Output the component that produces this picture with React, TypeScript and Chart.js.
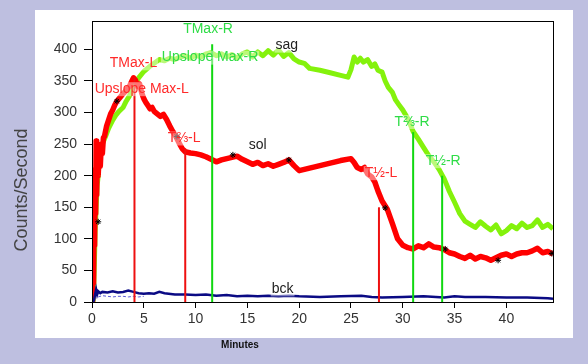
import React, { useEffect, useRef } from "react";
import { Chart, registerables } from "chart.js";

Chart.register(...registerables);

// ---- data ----
const solMinutes = [0.05,0.1,0.15,0.2,0.25,0.3,0.35,0.4,0.45,0.5,0.6,0.7,0.8,0.9,1.0,1.1,1.2,1.4,1.6,1.8,2.0,2.2,2.4,2.6,2.8,3.0,3.2,3.4,3.6,3.8,4.0,4.2,4.4,4.6,4.8,5.0,5.2,5.4,5.6,5.8,6.0,6.3,6.6,6.9,7.2,7.5,7.8,8.1,8.4,8.7,9.0,9.5,10,10.5,11,11.5,12,12.5,13,13.5,14,14.5,15,15.5,16,16.5,17,17.5,18,18.5,19,19.5,20,21,22,23,24,25,25.3,25.6,26,26.3,26.6,27,27.3,27.6,28,28.5,29,29.5,30,30.5,31,31.5,32,32.5,33,33.5,34,34.5,35,35.5,36,36.5,37,37.5,38,38.5,39,39.5,40,40.5,41,41.5,42,42.5,43,43.5,44,44.5];
const solCounts = [0,110,30,170,90,210,140,255,170,235,200,245,215,250,235,260,262,278,288,298,304,312,318,322,326,330,333,338,341,348,355,351,342,345,331,322,316,311,306,308,302,298,294,297,289,279,270,262,252,243,238,236,235,233,230,226,222,225,227,229,231,226,222,218,221,216,219,215,218,221,225,216,208,212,216,220,224,227,221,213,210,213,203,198,190,176,160,147,124,100,90,86,84,89,86,92,87,86,83,78,76,72,69,74,68,72,70,66,70,74,76,72,76,78,78,81,85,78,80,76];

const sagMinutes = [0.1,0.2,0.3,0.4,0.5,0.6,0.7,0.8,1.0,1.3,1.6,2.0,2.3,2.6,3.0,3.3,3.6,4.0,4.5,5.0,5.5,6.0,6.5,7.0,7.5,8.0,8.5,9.0,9.5,10,10.5,11,11.5,12,12.5,13,13.5,14,14.5,15,15.5,16,16.5,17,17.5,18,18.5,19,19.5,20,20.5,21,22,23,24,24.7,25,25.3,25.6,25.9,26.2,26.6,27,27.3,27.6,28,28.3,28.6,29,29.3,29.6,30,30.5,31,31.5,32,32.5,33,33.5,34,34.5,35,35.5,36,36.5,37,37.5,38,38.5,39,39.5,40,40.5,41,41.5,42,42.5,43,43.5,44,44.5];
const sagCounts = [0,40,110,150,185,200,225,240,250,262,275,288,296,302,308,318,326,340,355,365,372,378,384,382,386,384,388,390,386,391,388,393,395,390,393,388,392,386,393,396,388,396,390,398,391,399,389,395,385,380,378,370,367,363,359,356,368,388,380,386,380,384,373,377,367,364,350,340,332,320,313,304,290,270,258,245,232,222,210,195,175,158,140,128,123,118,127,120,114,122,108,113,121,116,125,118,121,130,118,123,116];

const bckMinutes = [0.1,0.2,0.3,0.4,0.5,0.6,0.8,1,1.5,2,2.5,3,3.5,4,4.5,5,5.5,6,6.5,7,8,9,10,11,12,13,14,15,16,17,18,19,20,22,24,26,27,28,30,32,34,35,36,38,40,42,44,44.5];
const bckCounts = [0,3,12,20,12,17,14,16,15,17,15,16,18,16,14,13,14,13,16,14,12,12,11,12,10,11,9,10,9,10,9,10,9,8,9,10,8,7,8,9,7,9,8,8,7,7,6,5];

const bck2Minutes = [0.6,1,1.5,2,2.5,3,3.5,4,4.5,5];
const bck2Counts = [8,10,9,8,9,9,8,9,8,9];

const starMinutes = [0.6,2.4,8.2,13.6,19,28.3,34.1,39.2,44.4];
const starCounts = [127,318,262,233,225,149,84,66,77];

const markerMinutes = [4.1, 9.0, 11.6, 27.7, 31.0, 33.8];
const markerTops = [356, 243, 408, 150, 269, 200];
const markerSide = ["L", "L", "R", "L", "R", "R"];

const labelTexts = ["TMax-L","Upslope Max-L","TMax-R","Upslope Max-R","sag","T⅔-L","sol","T½-L","T⅔-R","T½-R","bck"];
const labelMinutes = [4.0, 4.8, 11.2, 11.4, 18.8, 8.9, 16.0, 27.9, 30.9, 33.9, 18.4];
const labelCounts = [378, 337, 432, 387, 406, 259, 248, 204, 285, 223, 20];
const labelKinds = ["L","L","R","R","N","L","N","L","R","R","N"];

const yTicksStep = 50;
const xTicksStep = 5;

// ---- styles ----
const FONT = "'Liberation Sans', Arial, sans-serif";
const LAVENDER = "#bebfe0";
const RED = "#ff0000";
const SAG_GREEN = "#84f20c";
const MARK_GREEN = "#10d810";
const textColor: Record<string, string> = { L: "#ff2a2a", R: "#2edc46", N: "#222222" };
const markColor: Record<string, string> = { L: "#ee1010", R: MARK_GREEN };

const pts = (xs: number[], ys: number[]) => xs.map((x, i) => ({ x, y: ys[i] }));

const framePlugin = {
  id: "frame",
  beforeDraw(chart: any) {
    const ctx = chart.ctx;
    ctx.save();
    ctx.fillStyle = LAVENDER;
    ctx.fillRect(0, 0, chart.width, chart.height);
    ctx.fillStyle = "#ffffff";
    ctx.fillRect(35, 10, 538, 328);
    ctx.restore();
  },
  afterDatasetsDraw(chart: any) {
    const ctx = chart.ctx;
    const xs = chart.scales.x;
    const ys = chart.scales.y;
    ctx.save();
    ctx.font = `14px ${FONT}`;
    ctx.textAlign = "center";
    ctx.textBaseline = "middle";
    labelTexts.forEach((t, i) => {
      const px = xs.getPixelForValue(labelMinutes[i]);
      const py = ys.getPixelForValue(labelCounts[i]);
      const w = ctx.measureText(t).width;
      ctx.fillStyle = "rgba(255,255,255,0.45)";
      ctx.fillRect(px - w / 2 - 1, py - 7, w + 2, 14);
      ctx.fillStyle = textColor[labelKinds[i]];
      ctx.fillText(t, px, py);
    });
    const a = chart.chartArea;
    ctx.strokeStyle = "#000";
    ctx.lineWidth = 1;
    ctx.strokeRect(Math.round(a.left) + 0.5, Math.round(a.top) + 0.5, Math.round(a.right - a.left), Math.round(a.bottom - a.top));
    ctx.restore();
  },
  afterDraw(chart: any) {
    const ctx = chart.ctx;
    ctx.save();
    ctx.fillStyle = "#444";
    ctx.font = `18px ${FONT}`;
    ctx.textAlign = "center";
    ctx.textBaseline = "middle";
    ctx.translate(22, 190);
    ctx.rotate(-Math.PI / 2);
    ctx.fillText("Counts/Second", 0, 0);
    ctx.restore();
    ctx.save();
    ctx.fillStyle = "#111";
    ctx.font = `bold 10px ${FONT}`;
    ctx.textAlign = "center";
    ctx.textBaseline = "middle";
    ctx.fillText("Minutes", 240, 345);
    ctx.restore();
  },
};

export default function App() {
  const ref = useRef<HTMLCanvasElement | null>(null);
  useEffect(() => {
    document.body.style.margin = "0";
    if (!ref.current) return;
    const markerSets = markerMinutes.map((m, i) => ({
      type: "line" as const,
      data: [{ x: m, y: 0 }, { x: m, y: markerTops[i] }],
      borderColor: markColor[markerSide[i]],
      borderWidth: 2,
      pointRadius: 0,
      fill: false,
    }));
    const chart = new Chart(ref.current, {
      type: "line",
      data: {
        datasets: [
          ...markerSets,
          {
            type: "scatter" as any,
            data: pts(starMinutes, starCounts),
            pointStyle: "star",
            pointRadius: 3,
            borderColor: "#000",
            backgroundColor: "#000",
            borderWidth: 1,
            showLine: false,
          },
          { data: pts(bck2Minutes, bck2Counts), borderColor: "#5a5ad8", borderWidth: 1, borderDash: [3, 2], pointRadius: 0 },
          { data: pts(bckMinutes, bckCounts), borderColor: "#0a0a84", borderWidth: 2.5, pointRadius: 0 },
          { data: pts(solMinutes, solCounts), borderColor: RED, borderWidth: 5.5, pointRadius: 0, borderJoinStyle: "round" as any },
          { data: pts(sagMinutes, sagCounts), borderColor: SAG_GREEN, borderWidth: 5, pointRadius: 0, borderJoinStyle: "round" as any },
        ] as any,
      },
      options: {
        animation: false,
        responsive: false,
        devicePixelRatio: 1,
        layout: { padding: { left: 0, top: 21, right: 35, bottom: 0 } },
        plugins: { legend: { display: false }, tooltip: { enabled: false } },
        scales: {
          x: {
            type: "linear",
            min: 0,
            max: 44.5,
            afterFit: (s: any) => { s.height = 62; },
            afterBuildTicks: (s: any) => { s.ticks = s.ticks.filter((t: any) => Math.abs(t.value % xTicksStep) < 1e-6); },
            ticks: { stepSize: xTicksStep, includeBounds: false, color: "#333", font: { family: FONT, size: 14 }, padding: 3, maxRotation: 0, autoSkip: false },
            grid: { drawOnChartArea: false, drawTicks: true, tickLength: 6, color: "#000" },
            border: { display: false },
          },
          y: {
            type: "linear",
            min: 0,
            max: 445,
            afterFit: (s: any) => { s.width = 92; },
            afterBuildTicks: (s: any) => { s.ticks = s.ticks.filter((t: any) => Math.abs(t.value % yTicksStep) < 1e-6); },
            ticks: { stepSize: yTicksStep, includeBounds: false, color: "#333", font: { family: FONT, size: 14 }, padding: 7, autoSkip: false },
            grid: { drawOnChartArea: false, drawTicks: true, tickLength: 8, color: "#000" },
            border: { display: false },
          },
        },
      },
      plugins: [framePlugin],
    });
    return () => chart.destroy();
  }, []);
  return (
    <div style={{ width: 588, height: 364 }}>
      <canvas ref={ref} width={588} height={364} style={{ display: "block" }} />
    </div>
  );
}
